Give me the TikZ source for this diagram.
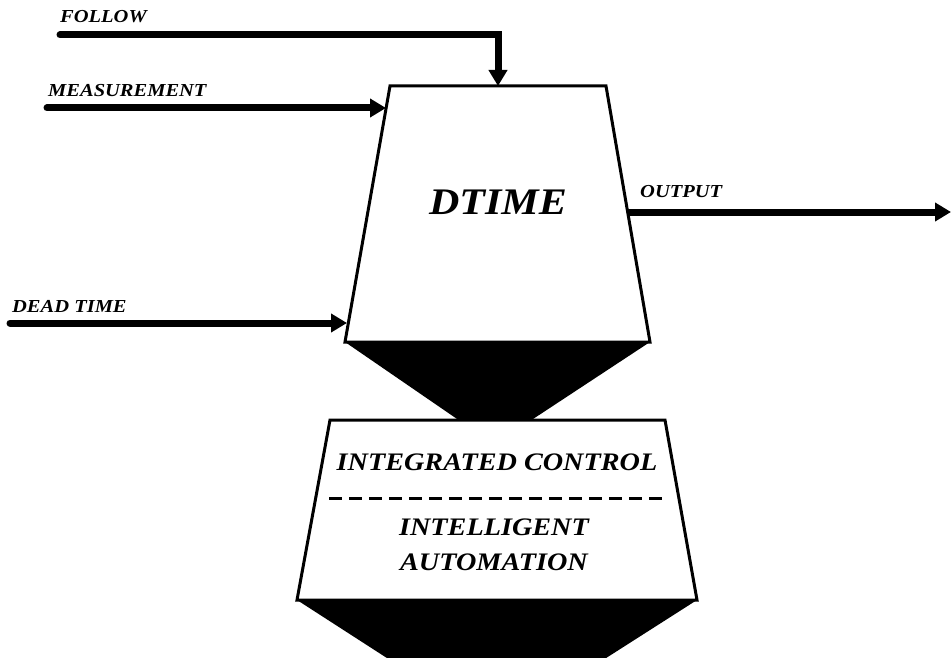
\documentclass[tikz,border=0pt]{standalone}
\usepackage{fontspec}
\setmainfont[FakeStretch=1.12]{Liberation Serif}
\usetikzlibrary{arrows.meta}

\begin{document}
\begin{tikzpicture}[x=1pt,y=-1pt,
  box/.style={draw,line width=3pt,line join=miter,fill=white},
  flow/.style={line width=7pt,line cap=round,line join=miter,-{Triangle[length=16pt,width=18pt]}},
  lbl/.style={anchor=base west,inner sep=0pt,font=\fontsize{18.3}{20}\selectfont\bfseries\itshape},
  txt/.style={inner sep=0pt,align=center,font=\fontsize{25.2}{35}\selectfont\bfseries\itshape}]
\useasboundingbox (0,0) rectangle (951,658);
\coordinate (dt-nw) at (390,86);
\coordinate (dt-ne) at (606,86);
\coordinate (dt-se) at (650,342);
\coordinate (dt-sw) at (345,342);
\coordinate (neck-w) at (460,421);
\coordinate (neck-e) at (530,421);
\coordinate (ic-nw) at (330,420);
\coordinate (ic-ne) at (665,420);
\coordinate (ic-se) at (697,600);
\coordinate (ic-sw) at (297,600);
\coordinate (foot-w) at (390,660);
\coordinate (foot-e) at (603,660);
\fill (dt-sw) -- (dt-se) -- (neck-e) -- (neck-w) -- cycle;
\fill (ic-sw) -- (ic-se) -- (foot-e) -- (foot-w) -- cycle;
\draw[box] (dt-nw) -- (dt-ne) -- (dt-se) -- (dt-sw) -- cycle;
\draw[box] (ic-nw) -- (ic-ne) -- (ic-se) -- (ic-sw) -- cycle;
\node[txt,font=\fontsize{37.5}{40}\selectfont\bfseries\itshape] (dtime) at (498,202) {DTIME};
\node[txt] (integ) at (497,462) {INTEGRATED CONTROL};
\node[txt] (intel) at (494,545) {INTELLIGENT\\AUTOMATION};
\coordinate (sep-w) at (329,498);
\coordinate (sep-e) at (662,498);
\draw[line width=3pt,dash pattern=on 13pt off 7pt] (sep-w) -- (sep-e);
\coordinate (follow-src) at (60,35);
\coordinate (follow-in) at (498,86);
\coordinate (meas-src) at (47,108);
\coordinate (meas-in) at (386,108);
\coordinate (dead-src) at (10,323);
\coordinate (dead-in) at (347,323);
\coordinate (out-src) at (627,212);
\coordinate (out-end) at (951,212);
\draw[flow] (follow-src) -| (follow-in);
\draw[flow] (meas-src) -- (meas-in);
\draw[flow] (dead-src) -- (dead-in);
\draw[flow,line cap=butt] (out-src) -- (out-end);
\node[lbl] (follow) at (60,23) {FOLLOW};
\node[lbl] (meas) at (48,97) {MEASUREMENT};
\node[lbl] (dead) at (12,312) {DEAD TIME};
\node[lbl] (out) at (640,197) {OUTPUT};
\end{tikzpicture}
\end{document}
